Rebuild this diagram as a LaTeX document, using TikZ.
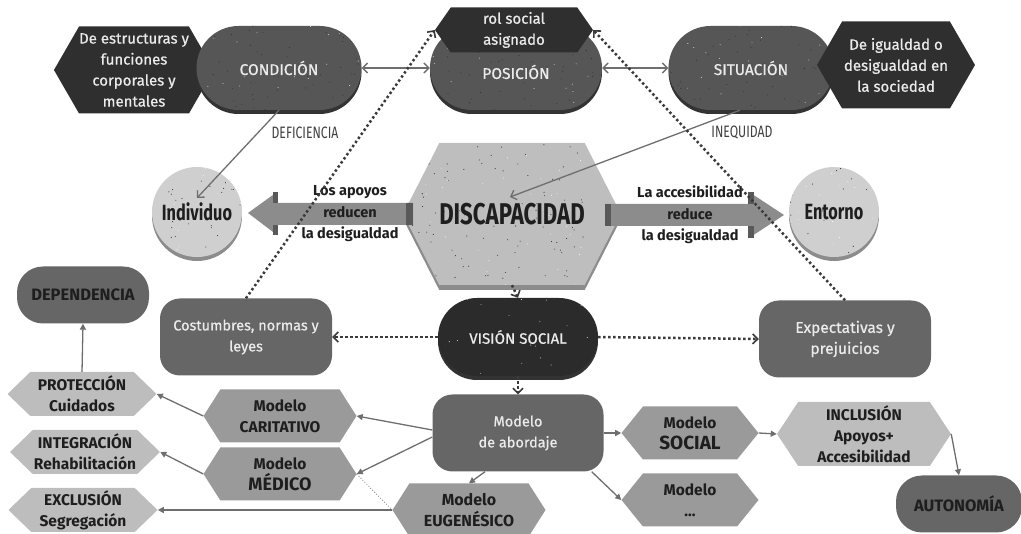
\documentclass[tikz,border=0pt]{standalone}
\usepackage{fontspec}
\setmainfont{Fira Sans}
\newfontfamily\medfont[FakeBold=0.7]{Fira Sans}
\newfontfamily\narrowfont[FakeStretch=0.74]{Fira Sans}
\usetikzlibrary{arrows.meta, positioning, shapes.misc, shapes.symbols, shadows}

\definecolor{hexdark}{HTML}{2F2F2F}
\definecolor{pilldark}{HTML}{565656}
\definecolor{visdark}{HTML}{2B2B2B}
\definecolor{boxmid}{HTML}{666666}
\definecolor{modgray}{HTML}{9A9A9A}
\definecolor{hexlight}{HTML}{BDBDBD}
\definecolor{disclight}{HTML}{BEBEBE}
\definecolor{circlight}{HTML}{CFCFCF}
\definecolor{linegray}{HTML}{6E6E6E}
\definecolor{dotgray}{HTML}{3A3A3A}
\definecolor{arrowgray}{HTML}{8C8C8C}
\definecolor{inkdark}{HTML}{1E1E1E}

\pgfmathsetseed{4711}

\begin{document}
\begin{tikzpicture}[
  x=1pt, y=-1pt,
  every node/.style={align=center, inner sep=0pt},
  speckled/.style={path picture={
    \foreach \k in {1,...,110}{
      \fill[black!80] ([xshift=rnd*180pt, yshift=rnd*150pt]path picture bounding box.south west)
        circle (0.55pt);}
    \foreach \k in {1,...,40}{
      \fill[white!80] ([xshift=rnd*180pt, yshift=rnd*150pt]path picture bounding box.south west)
        circle (0.45pt);}
  }},
  pill/.style={rounded rectangle, fill=pilldark, text=white!92!black, speckled,
    minimum width=165pt, minimum height=84pt,
    font=\medfont\fontsize{15.5}{18}\selectfont,
    general shadow={fill=black!80, shadow yshift=-4pt}},
  darkhex/.style={signal, signal to=east and west, signal pointer angle=120,
    fill=hexdark, text=white!92!black, font=\medfont\fontsize{15}{21}\selectfont},
  modhex/.style={signal, signal to=east and west, signal pointer angle=115,
    fill=modgray, text=inkdark, minimum width=153pt, minimum height=53pt,
    font=\bfseries\fontsize{15.5}{21}\selectfont},
  lighthex/.style={signal, signal to=east and west, signal pointer angle=88,
    fill=hexlight, text=inkdark, minimum width=149pt, minimum height=44pt,
    font=\bfseries\fontsize{15.5}{21}\selectfont},
  roundbox/.style={rectangle, rounded corners=20pt, fill=boxmid,
    text=white!92!black, minimum width=172pt, minimum height=77pt,
    font=\medfont\fontsize{14.5}{21}\selectfont},
  endbox/.style={rectangle, rounded corners=26pt, fill=boxmid, text=inkdark,
    minimum height=57pt, font=\bfseries\fontsize{16.5}{19}\selectfont},
  disc/.style={circle, fill=circlight, minimum size=90pt, text=inkdark, speckled,
    font=\narrowfont\bfseries\fontsize{22}{26}\selectfont,
    general shadow={fill=black!45, shadow yshift=-4pt}},
  conn/.style={draw=linegray, line width=1.3pt, -{Triangle[length=6pt, width=6pt]}},
  dotline/.style={draw=dotgray, line width=2.5pt,
    dash pattern=on 2.4pt off 2.6pt,
    -{Straight Barb[length=5pt, width=10pt, line width=1.6pt]}},
  arrowtext/.style={text=inkdark, font=\bfseries\fontsize{14.5}{21.5}\selectfont},
  edgelabel/.style={text=inkdark!85, font=\narrowfont\fontsize{16.5}{18}\selectfont}
]

\useasboundingbox (0,0) rectangle (1021,534);

%% ---- Top row ----
\node[darkhex, minimum width=158pt, minimum height=87pt] (estruct) at (134,70)
  {De estructuras y\\funciones\\corporales y\\mentales};
\node[pill] (cond) at (279,68) {CONDICIÓN};
\node[pill, minimum width=172pt] (pos) at (516,68) {\\[4pt]POSICIÓN};
\node[darkhex, signal pointer angle=110, minimum width=158pt, minimum height=45pt]
  (rol) at (514,30) {rol social\\asignado};
\node[pill] (sit) at (751,68) {SITUACIÓN};
\node[darkhex, minimum width=158pt, minimum height=87pt] (igual) at (896,65)
  {De igualdad o\\desigualdad en\\la sociedad};

\draw[draw=linegray, line width=1.3pt, {Straight Barb[length=5pt]}-{Straight Barb[length=5pt]}]
  (cond.east) -- (pos.west);
\draw[draw=linegray, line width=1.3pt, {Straight Barb[length=5pt]}-{Straight Barb[length=5pt]}]
  (pos.east) -- (sit.west);

%% ---- Middle row ----
\node[disc] (ind) at (197,212) {Individuo};
\node[disc] (ent) at (834,212) {Entorno};
\node[signal, signal to=east and west, signal pointer angle=126, speckled,
  fill=disclight, minimum width=170pt, minimum height=142pt,
  text=inkdark, font=\narrowfont\bfseries\fontsize{30}{34}\selectfont,
  general shadow={fill=black!45, shadow yshift=-5pt}]
  (discap) at (512,214) {DISCAPACIDAD};

% block arrows
\fill[arrowgray] (248,213) -- (277,192) -- (277,203) -- (413,203)
  -- (413,225) -- (277,225) -- (277,235) -- cycle;
\fill[black!65] (406,203) rectangle (413,225);
\fill[black!65] (273,192) rectangle (278,203);
\fill[black!65] (273,225) rectangle (278,235);
\fill[arrowgray] (605,204) -- (749,204) -- (749,192) -- (784,215)
  -- (749,238) -- (749,226) -- (605,226) -- cycle;
\fill[black!65] (605,204) rectangle (611,226);
\fill[black!65] (748,192) rectangle (754,204);
\fill[black!65] (748,226) rectangle (754,238);

\node[arrowtext] (apoyos) at (350,214) {Los apoyos\\reducen\\la desigualdad};
\node[arrowtext] (acces) at (690,215) {La accesibilidad\\reduce\\la desigualdad};

\coordinate (indin) at (197,198);
\coordinate (discin) at (510,197);
\draw[conn, -{Straight Barb[length=5pt]}] (cond.south) -- (indin);
\draw[conn, -{Straight Barb[length=5pt]}] (sit.south -| 740,0) -- (discin);
\node[edgelabel] (defic) at (305,133) {DEFICIENCIA};
\node[edgelabel] (inequ) at (742,133) {INEQUIDAD};

%% ---- Social view ----
\node[pill, fill=visdark, minimum width=160pt, minimum height=78pt,
  font=\medfont\fontsize{15}{18}\selectfont] (vis) at (518,337) {VISIÓN SOCIAL};
\node[roundbox] (cost) at (246,337) {Costumbres, normas y\\leyes};
\node[roundbox, font=\medfont\fontsize{15.5}{21}\selectfont] (expect) at (845,339)
  {Expectativas y\\prejuicios};

\draw[dotline] (cost.north) -- (rol.west);
\draw[dotline] (expect.north) -- (rol.east);
\draw[dotline] (discap.south) -- (vis.north);
\draw[dotline] (vis.west) -- (cost.east);
\draw[dotline] (vis.east) -- (expect.west);

%% ---- Models ----
\node[roundbox, minimum width=171pt] (abord) at (518,433) {Modelo\\de abordaje};
\draw[dotline] (vis.south) -- (abord.north);

\node[modhex] (carit) at (280,416) {Modelo\\CARITATIVO};
\node[modhex] (medic) at (280,474)
  {Modelo\\{\fontsize{18}{21}\selectfont MÉDICO}};
\node[modhex, font=\bfseries\fontsize{16}{21}\selectfont] (eugen) at (469,510)
  {Modelo\\EUGENÉSICO};
\node[modhex, signal pointer angle=102, minimum width=137pt] (social) at (690,433)
  {Modelo\\{\fontsize{19}{22}\selectfont SOCIAL}};
\node[modhex, signal pointer angle=102, minimum width=137pt] (otro) at (690,500)
  {Modelo\\...};

\node[lighthex] (prot) at (82,394) {PROTECCIÓN\\Cuidados};
\node[lighthex, minimum width=150pt] (integ) at (85,452) {INTEGRACIÓN\\Rehabilitación};
\node[lighthex] (excl) at (83,510) {EXCLUSIÓN\\Segregación};
\node[lighthex, signal pointer angle=113, minimum width=174pt, minimum height=64pt]
  (inclu) at (864,434) {INCLUSIÓN\\Apoyos+\\Accesibilidad};

\node[endbox, minimum width=132pt] (depen) at (83,295) {DEPENDENCIA};
\node[endbox, minimum width=126pt] (auton) at (959,504) {AUTONOMÍA};

\draw[conn] (abord.west |- 0,430) -- (carit.east);
\draw[conn] (abord.west |- 0,437) -- (medic.east);
\draw[conn] (abord.south -| 485,0) -- (eugen.north);
\draw[conn] (carit.west) -- (prot.east);
\draw[conn] (medic.west) -- (integ.east);
\draw[conn] (eugen.west) -- (excl.east);
\draw[conn] (prot.north) -- (depen.south);
\draw[draw=linegray, line width=0.8pt, dotted] (medic.east) -- (eugen.west);
\draw[conn] (abord.east) -- (social.west);
\draw[conn] (abord.south east) ++(-12,0) -- (otro.west);
\draw[conn] (social.east) -- (inclu.west);
\draw[conn] (inclu.east) -- (auton.north);

\end{tikzpicture}
\end{document}
